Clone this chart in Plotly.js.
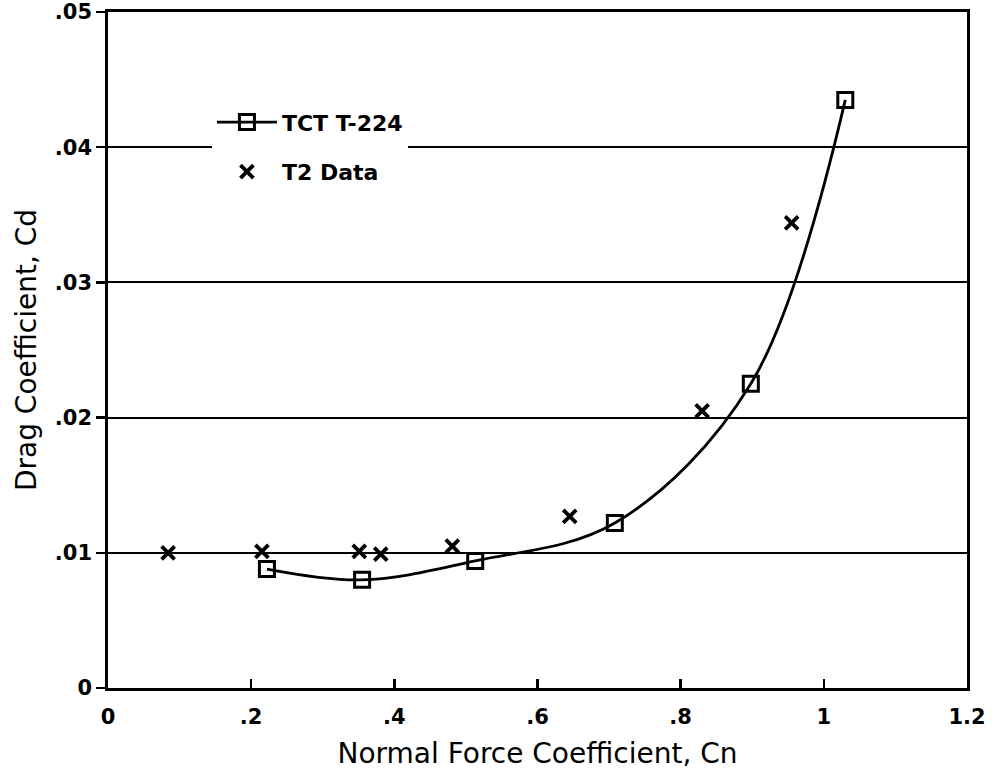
<!DOCTYPE html>
<html>
<head>
<meta charset="utf-8">
<script src="https://cdn.plot.ly/plotly-3.0.1.min.js"></script>
<style>
  html, body { margin: 0; padding: 0; background: #fff; }
  #chart { width: 992px; height: 778px; }
</style>
</head>
<body>
<div id="chart"></div>
<script>
// TCT T-224 computed data (squares with smooth curve)
const tctCn = [0.222, 0.355, 0.513, 0.708, 0.898, 1.03];
const tctCd = [0.0088, 0.0080, 0.0094, 0.0122, 0.0225, 0.0435];
// T2 experimental data (x markers)
const t2Cn = [0.084, 0.215, 0.351, 0.381, 0.481, 0.645, 0.83, 0.955];
const t2Cd = [0.0100, 0.0101, 0.0101, 0.0099, 0.0105, 0.0127, 0.0205, 0.0344];
// Tick labels
const xTickVals = [0, 0.2, 0.4, 0.6, 0.8, 1.0, 1.2];
const xTickText = ['0', '.2', '.4', '.6', '.8', '1', '1.2'];
const yTickVals = [0, 0.01, 0.02, 0.03, 0.04, 0.05];
const yTickText = ['0', '.01', '.02', '.03', '.04', '.05'];
const seriesNames = ['TCT T-224', 'T2 Data'];

const FONT = 'DejaVu Sans, Verdana, sans-serif';

const traces = [
  {
    x: tctCn, y: tctCd, name: seriesNames[0], legendgroup: 'a',
    type: 'scatter', mode: 'lines+markers',
    line: { color: '#000', width: 2.8, shape: 'spline', smoothing: 1 },
    marker: { symbol: 'square-open', size: 15, color: '#000', line: { width: 3, color: '#000' } }
  },
  {
    x: t2Cn, y: t2Cd, name: seriesNames[1], legendgroup: 'b',
    type: 'scatter', mode: 'markers',
    marker: { symbol: 'x-thin-open', size: 13, color: '#000', line: { width: 3.8, color: '#000' } }
  }
];

const layout = {
  width: 992, height: 778,
  margin: { l: 108, r: 25, t: 12, b: 90 },
  paper_bgcolor: '#fff', plot_bgcolor: '#fff',
  showlegend: true,
  legend: {
    x: 0.121, xanchor: 'left', y: 0.868, yanchor: 'top',
    bgcolor: '#fff', borderwidth: 0,
    itemwidth: 60,
    traceorder: 'grouped', tracegroupgap: 18,
    font: { family: FONT, size: 22, color: '#000', weight: 700 }
  },
  xaxis: {
    range: [0, 1.2], tickvals: xTickVals, ticktext: xTickText,
    ticks: 'inside', ticklen: 9, tickwidth: 2.5, tickcolor: '#000',
    showline: true, linecolor: '#000', linewidth: 2.8, mirror: true,
    showgrid: false, zeroline: false,
    ticklabelstandoff: 8,
    tickfont: { family: FONT, size: 21, color: '#000', weight: 700 },
    title: { text: 'Normal Force Coefficient, Cn', font: { family: FONT, size: 28, color: '#000' }, standoff: 16 }
  },
  yaxis: {
    range: [0, 0.05], tickvals: yTickVals, ticktext: yTickText,
    ticks: 'outside', ticklen: 9, tickwidth: 2.5, tickcolor: '#000',
    showline: true, linecolor: '#000', linewidth: 2.8, mirror: true,
    showgrid: true, gridcolor: '#000', gridwidth: 2.2, zeroline: false,
    tickfont: { family: FONT, size: 21, color: '#000', weight: 700 },
    title: { text: 'Drag Coefficient, Cd', font: { family: FONT, size: 28, color: '#000' }, standoff: 10 }
  }
};

Plotly.newPlot('chart', traces, layout, { displayModeBar: false, staticPlot: true });
</script>
</body>
</html>
